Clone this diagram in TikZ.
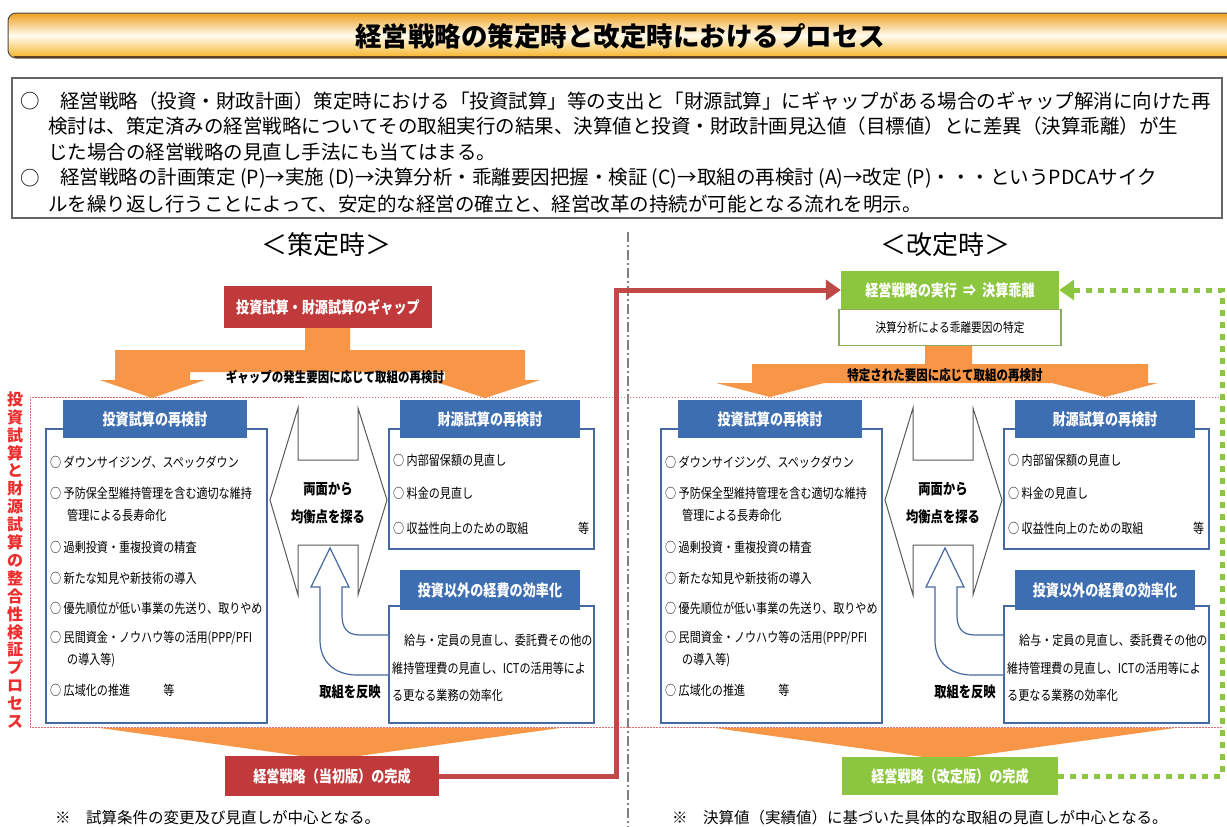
\documentclass[tikz,border=0pt]{standalone}
\usepackage{fontspec}
\setmainfont{Noto Sans CJK JP}
\newfontfamily\jpc[FakeStretch=0.82]{Noto Sans CJK JP}
\usetikzlibrary{arrows.meta}
\definecolor{hdrblue}{RGB}{62,110,178}
\definecolor{bordblue}{RGB}{70,105,160}
\definecolor{bred}{RGB}{192,58,60}
\definecolor{cred}{RGB}{192,72,70}
\definecolor{orng}{RGB}{247,150,70}
\definecolor{grn}{RGB}{140,198,63}
\definecolor{grnbord}{RGB}{140,170,90}
\definecolor{dotred}{RGB}{225,110,110}
\definecolor{vred}{RGB}{235,45,45}
\definecolor{tb1}{RGB}{240,160,30}
\definecolor{tb2}{RGB}{255,252,240}
\definecolor{tb3}{RGB}{246,178,35}
\tikzset{
  hdr/.style={fill=hdrblue, text=white, font=\jpc\bfseries\fontsize{16}{16}\selectfont, minimum height=38, inner sep=0},
  listbox/.style={draw=bordblue, line width=1.5pt, fill=white, inner sep=0},
  item/.style={anchor=west, font=\jpc\fontsize{13.5}{13.5}\selectfont, inner sep=0},
  redbox/.style={fill=bred, text=white, font=\jpc\bfseries\fontsize{16}{16}\selectfont, inner sep=0},
  grnbox/.style={fill=grn, text=white, font=\jpc\bfseries\fontsize{16}{16}\selectfont, inner sep=0},
  bodytxt/.style={anchor=west, font=\fontsize{19.5}{19.5}\selectfont, inner sep=0},
  notetxt/.style={anchor=west, font=\fontsize{15.5}{15.5}\selectfont, inner sep=0},
  boldlbl/.style={font=\jpc\bfseries\fontsize{15}{15}\selectfont, inner sep=0},
  redconn/.style={draw=cred, line width=5pt, -{Triangle[length=15pt,width=20pt]}},
  gdot/.style={draw=grn, line width=5pt, dash pattern=on 6pt off 6pt, -{Triangle[length=15pt,width=20pt]}},
}
\newcommand\mypanel[1]{%
  % left list box
  \node[listbox, minimum width=221, minimum height=294, anchor=north west] (#1lbox) at (45,428) {};
  \node[hdr, minimum width=184] (#1lhdr) at (155,419) {投資試算の再検討};
  \node[item] (#1i1) at (50,462) {○ ダウンサイジング、スペックダウン};
  \node[item] (#1i2) at (50,493) {○ 予防保全型維持管理を含む適切な維持};
  \node[item] (#1i3) at (67,515) {管理による長寿命化};
  \node[item] (#1i4) at (50,547) {○ 過剰投資・重複投資の精査};
  \node[item] (#1i5) at (50,578) {○ 新たな知見や新技術の導入};
  \node[item] (#1i6) at (50,608) {○ 優先順位が低い事業の先送り、取りやめ};
  \node[item] (#1i7) at (50,638) {○ 民間資金・ノウハウ等の活用(PPP/PFI};
  \node[item] (#1i8) at (67,660) {の導入等)};
  \node[item] (#1i9) at (50,690) {○ 広域化の推進　　　等};
  % double arrow
  \draw[draw=gray!70!black, line width=1pt, fill=white] (298,408) -- (298,460) -- (358,460) -- (358,408) -- (387,500) -- (358,595) -- (358,545) -- (298,545) -- (298,595) -- (270,500) -- cycle;
  \node[boldlbl, align=center, font=\jpc\bfseries\fontsize{15}{28}\selectfont] (#1dbl) at (328,503) {両面から\\均衡点を探る};
  % right boxes
  \node[listbox, minimum width=205, minimum height=120, anchor=north west] (#1rbox) at (388,428) {};
  \node[hdr, minimum width=180] (#1rhdr) at (490,419) {財源試算の再検討};
  \node[item] (#1r1) at (393,460) {○ 内部留保額の見直し};
  \node[item] (#1r2) at (393,493) {○ 料金の見直し};
  \node[item] (#1r3) at (393,528) {○ 収益性向上のための取組};
  \node[item] (#1r4) at (578,528) {等};
  \node[listbox, minimum width=205, minimum height=117, anchor=north west] (#1ebox) at (388,605) {};
  \node[hdr, minimum width=180, minimum height=40] (#1ehdr) at (490,590) {投資以外の経費の効率化};
  \node[item] (#1e1) at (404,640) {給与・定員の見直し、委託費その他の};
  \node[item] (#1e2) at (392,668) {維持管理費の見直し、ICTの活用等によ};
  \node[item] (#1e3) at (392,695) {る更なる業務の効率化};
  % U arrow
  \filldraw[draw=bordblue, line width=1.2pt, fill=white] (388,635) -- (360,635) .. controls (347,635) and (342,628) .. (342,615) -- (342,587) -- (349,587) -- (330,548) -- (311,587) -- (320,587) -- (320,640) .. controls (320,662) and (335,675) .. (357,675) -- (388,675);
  \node[boldlbl] (#1refl) at (350,692) {取組を反映};
  % funnel
  \fill[orng] (100,728) -- (560,728) -- (330,760) -- cycle;
}
\begin{document}
\begin{tikzpicture}[x=1pt,y=-1pt]
\useasboundingbox (0,0) rectangle (1227,827);
\fill[white] (0,0) rectangle (1227,827);
% title bar
\shade[rounded corners=8pt, top color=tb1, bottom color=tb3, middle color=tb2] (8,13) rectangle (1245,58);
\draw[rounded corners=8pt, line width=1pt, draw=gray!60!black] (8,13) rectangle (1245,58);
\draw[line width=2.5pt, draw=brown!50!black] (14,57) -- (1227,57);
\node[font=\bfseries\fontsize{26.5}{26.5}\selectfont, inner sep=0] (title) at (620,36) {経営戦略の策定時と改定時におけるプロセス};
% description box
\draw[draw=gray!80!black, line width=2.2pt] (12,78) rectangle (1222,218);
\node[bodytxt] (d0) at (20,101) {○};
\node[bodytxt] (d1) at (60,101) {経営戦略（投資・財政計画）策定時における「投資試算」等の支出と「財源試算」にギャップがある場合のギャップ解消に向けた再};
\node[bodytxt] (d2) at (48,126) {検討は、策定済みの経営戦略についてその取組実行の結果、決算値と投資・財政計画見込値（目標値）とに差異（決算乖離）が生};
\node[bodytxt] (d3) at (48,152) {じた場合の経営戦略の見直し手法にも当てはまる。};
\node[bodytxt] (d4) at (20,178) {○};
\node[bodytxt] (d5) at (60,178) {経営戦略の計画策定 (P)→実施 (D)→決算分析・乖離要因把握・検証 (C)→取組の再検討 (A)→改定 (P)・・・というPDCAサイク};
\node[bodytxt] (d6) at (48,204) {ルを繰り返し行うことによって、安定的な経営の確立と、経営改革の持続が可能となる流れを明示。};
% section labels
\node[font=\fontsize{26}{26}\selectfont, inner sep=0] (lab1) at (326,245) {＜策定時＞};
\node[font=\fontsize{26}{26}\selectfont, inner sep=0] (lab2) at (945,245) {＜改定時＞};
% divider
\draw[draw=gray, line width=1.3pt, dash pattern=on 10pt off 3pt on 2pt off 3pt] (628,232) -- (628,827);
% red dotted area
\draw[dotred, line width=0.9pt, dash pattern=on 1.5pt off 1.5pt] (1222,397) -- (30,397) -- (30,727) -- (1222,727);
\node[align=center, text=vred, font=\bfseries\fontsize{16}{17.9}\selectfont, inner sep=0] (vt) at (15,560) {投\\資\\試\\算\\と\\財\\源\\試\\算\\の\\整\\合\\性\\検\\証\\プ\\ロ\\セ\\ス};
% left top
\node[redbox, minimum width=208, minimum height=42] (gap) at (328,307) {投資試算・財源試算のギャップ};
\fill[orng] (305,328) -- (350,328) -- (350,350) -- (525,350) -- (525,380) -- (540,380) -- (485,398) -- (430,380) -- (445,380) -- (445,372) -- (190,372) -- (190,380) -- (205,380) -- (152,398) -- (100,380) -- (115,380) -- (115,350) -- (305,350) -- cycle;
\node[boldlbl, font=\jpc\bfseries\fontsize{14}{14}\selectfont] (gaptxt) at (335,377) {ギャップの発生要因に応じて取組の再検討};
% panels
\mypanel{L}
\begin{scope}[xshift=615pt]
\mypanel{R}
\end{scope}
% left final
\node[redbox, minimum width=214, minimum height=40] (fin1) at (332,776) {経営戦略（当初版）の完成};
\node[notetxt] (fn1) at (55,818) {※　試算条件の変更及び見直しが中心となる。};
% right top
\node[grnbox, minimum width=218, minimum height=38] (g1) at (950,290) {経営戦略の実行\ \ ⇒\ \ 決算乖離};
\node[draw=grnbord, line width=1.2pt, fill=white, minimum width=222, minimum height=36, inner sep=0, anchor=north, font=\jpc\fontsize{13}{13}\selectfont] (g1b) at (950,309) {決算分析による乖離要因の特定};
\fill[orng] (925,346) -- (972,346) -- (972,364) -- (1148,364) -- (1148,383) -- (1158,383) -- (1105,397) -- (1052,383) -- (1100,383) -- (1100,383) -- (800,383) -- (824,383) -- (770,397) -- (716,383) -- (752,383) -- (752,364) -- (925,364) -- cycle;
\node[boldlbl, font=\jpc\bfseries\fontsize{14}{14}\selectfont] (g1txt) at (945,375) {特定された要因に応じて取組の再検討};
% right final
\node[grnbox, minimum width=216, minimum height=38] (g2) at (950,776) {経営戦略（改定版）の完成};
\node[notetxt] (fn2) at (672,818) {※　決算値（実績値）に基づいた具体的な取組の見直しが中心となる。};
% connectors
\coordinate (rc) at (616,0);
\coordinate (gc) at (1222,0);
\draw[redconn] (fin1.east) -- (fin1.east -| rc) -- (rc |- g1.west) -- (g1.west);
\draw[gdot] (g2.east) -- (g2.east -| gc) -- (gc |- g1.east) -- (g1.east);
\end{tikzpicture}
\end{document}
